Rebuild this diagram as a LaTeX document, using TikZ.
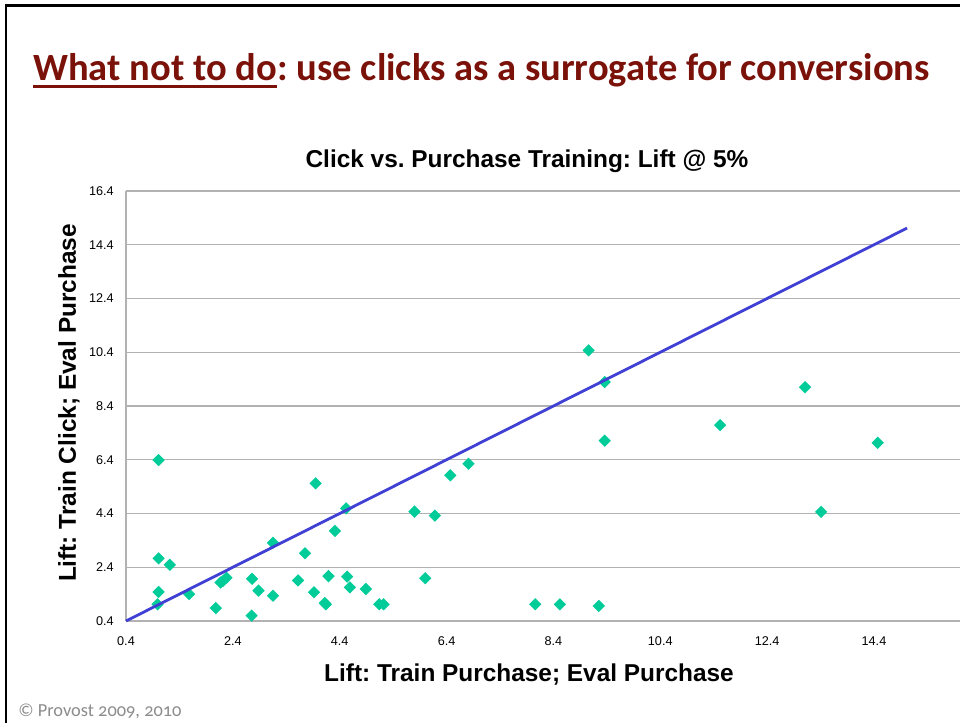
\documentclass[tikz,border=0pt]{standalone}
\usepackage{fontspec}
\setmainfont{Liberation Sans}
\newfontfamily\calibri{Carlito}
\newfontfamily\calibrios[Numbers=OldStyle]{Carlito}
\usetikzlibrary{shapes.geometric}
\frenchspacing
\definecolor{titlered}{RGB}{122,18,10}
\definecolor{gridgray}{RGB}{178,178,178}
\definecolor{pointgreen}{RGB}{0,204,153}
\definecolor{lineblue}{RGB}{64,64,212}
\definecolor{copygray}{RGB}{140,140,140}
\tikzset{
  gridline/.style={draw=gridgray, line width=0.9pt},
  pointmark/.style={diamond, fill=pointgreen, inner sep=0pt, minimum size=9.4pt},
  fitline/.style={draw=lineblue, line width=2.1pt},
  ticklabel/.style={font=\fontsize{9.5}{11}\selectfont, text=black, inner sep=0pt},
  axistitle/.style={font=\bfseries\fontsize{18.3}{22}\selectfont, text=black, inner sep=0pt},
}
\begin{document}
\begin{tikzpicture}[x=0.75pt,y=-0.75pt]
\useasboundingbox (0,0) rectangle (960,723);
\fill[white] (0,0) rectangle (960,723);
% slide frame
\draw[black, line width=1.8pt] (6,723) -- (6,5.5) -- (960,5.5);
% slide title
\node[anchor=base west, inner sep=0pt, text=titlered, font=\calibri\bfseries\fontsize{28.9}{34}\selectfont] (t1) at (33,81) {What not to do};
\node[anchor=base west, inner sep=0pt, text=titlered, font=\calibri\bfseries\fontsize{28.9}{34}\selectfont] (t2) at (t1.base east) {: use clicks as a surrogate for conversions};
\draw[titlered, line width=2.2pt] ([yshift=-3.8pt]t1.base west) -- ([yshift=-3.8pt]t1.base east);
% chart title and axis titles
\node[axistitle] (ctitle) at (527,161) {Click vs. Purchase Training: Lift @ 5\%};
\node[axistitle] (xtitle) at (529,675) {Lift: Train Purchase; Eval Purchase};
\node[axistitle, rotate=90] (ytitle) at (69,403) {Lift: Train Click; Eval Purchase};
% copyright
\node[anchor=west, inner sep=0pt, text=copygray, font=\calibrios\fontsize{13.8}{16}\selectfont] (copy) at (18,711) {\textcopyright\ Provost 2009, 2010};
% plot
\begin{scope}[shift={(78.47pt,-473.81pt)}, x=40.07pt, y=20.156pt]
  \foreach \y in {0.4,2.4,4.4,6.4,8.4,10.4,12.4,14.4,16.4} {
    \draw[gridline] (0.4,\y) -- (16.02,\y);
    \node[ticklabel, anchor=east] (yl\y) at ([xshift=-9pt]0.4,\y) {\y};
  }
  \draw[gridline] (0.4,0.4) -- (0.4,16.4);
  \foreach \x in {0.4,2.4,4.4,6.4,8.4,10.4,12.4,14.4} {
    \node[ticklabel] (xl\x) at ([yshift=-15pt]\x,0.4) {\x};
  }
  \foreach [count=\k] \px/\py in {
    1.01/6.39, 3.95/5.52, 4.52/4.59, 4.31/3.75, 3.15/3.31, 3.75/2.92,
    1.01/2.73, 1.22/2.49, 2.76/1.97, 2.28/2.01, 2.17/1.83, 2.22/1.90,
    3.62/1.91, 4.19/2.07, 4.54/2.05, 1.01/1.48, 1.58/1.40, 2.88/1.53,
    3.92/1.47, 4.59/1.65, 4.89/1.59, 3.15/1.34, 0.99/1.02, 2.08/0.88,
    2.75/0.60, 4.12/1.07, 4.14/1.02, 5.14/1.02, 5.22/1.02, 9.36/7.11,
    6.81/6.25, 6.47/5.82, 5.80/4.47, 6.18/4.32, 6.00/1.99, 8.06/1.02,
    8.52/1.02, 9.25/0.96, 9.06/10.47, 9.36/9.29, 13.11/9.10, 11.52/7.69,
    14.47/7.03, 13.41/4.46} {
    \node[pointmark] (p\k) at (\px,\py) {};
  }
  \coordinate (l0) at (0.4,0.4);
  \coordinate (l1) at (15.02,15.02);
  \draw[fitline] (l0) -- (l1);
\end{scope}
\end{tikzpicture}
\end{document}
